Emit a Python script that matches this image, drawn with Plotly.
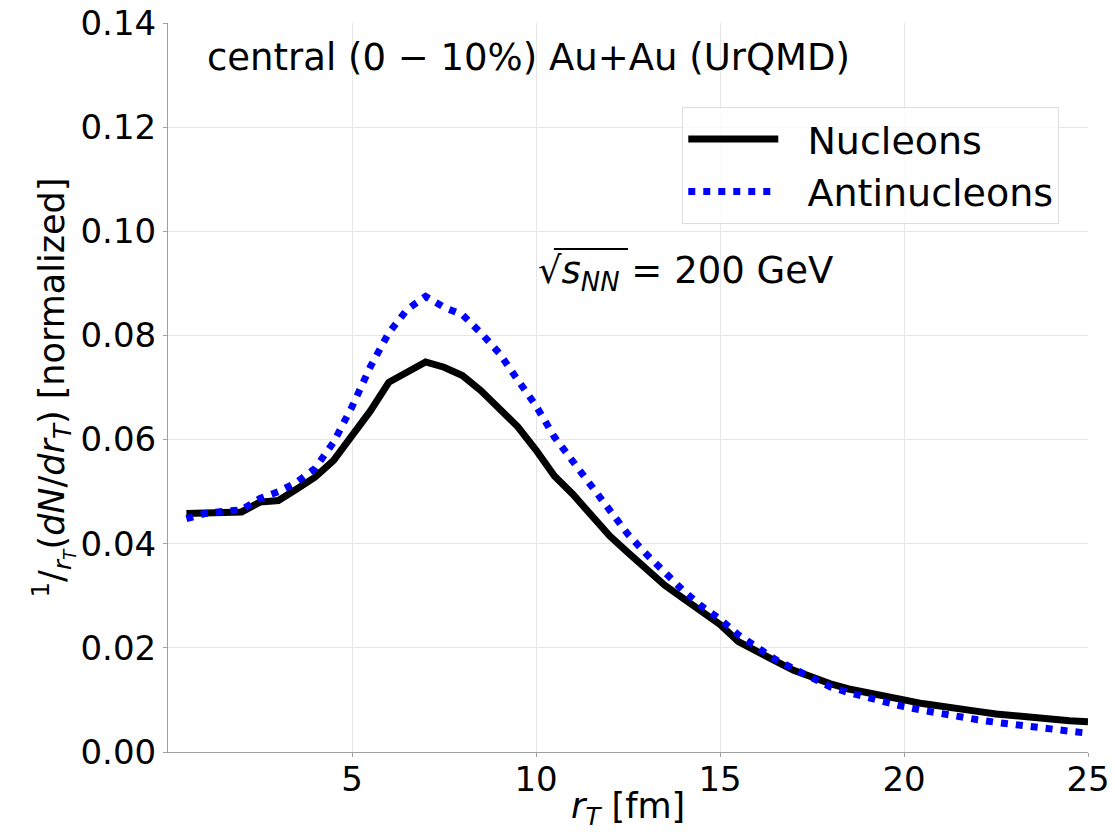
import plotly.graph_objects as go

r_T = [0.5, 1.0, 1.5, 2.0, 2.5, 3.0, 3.5, 4.0, 4.5, 5.0,
       5.5, 6.0, 6.5, 7.0, 7.5, 8.0, 8.5, 9.0, 9.5, 10.0,
       10.5, 11.0, 11.5, 12.0, 12.5, 13.0, 13.5, 14.0, 14.5, 15.0,
       15.5, 16.0, 16.5, 17.0, 17.5, 18.0, 18.5, 19.0, 19.5, 20.0,
       20.5, 21.0, 21.5, 22.0, 22.5, 23.0, 23.5, 24.0, 24.5, 25.0]

nucleons = [0.0458, 0.0460, 0.0461, 0.0461, 0.0480, 0.0483, 0.0505, 0.0528, 0.0560, 0.0605,
            0.0655, 0.0710, 0.0730, 0.0749, 0.0739, 0.0723, 0.0694, 0.0660, 0.0625, 0.0580,
            0.0530, 0.0495, 0.0455, 0.0415, 0.0383, 0.0350, 0.0320, 0.0295, 0.0270, 0.0245,
            0.0212, 0.0195, 0.0175, 0.0157, 0.0143, 0.0131, 0.0121, 0.0113, 0.0106, 0.0100,
            0.0093, 0.0087, 0.0083, 0.0078, 0.0073, 0.0069, 0.0065, 0.0062, 0.0060, 0.0058]

antinucleons = [0.0448, 0.0458, 0.0462, 0.0465, 0.0487, 0.0500, 0.0518, 0.0545, 0.0595, 0.0663,
                0.0740, 0.0805, 0.0850, 0.0875, 0.0854, 0.0840, 0.0805, 0.0766, 0.0715, 0.0665,
                0.0605, 0.0558, 0.0510, 0.0462, 0.0418, 0.0380, 0.0345, 0.0310, 0.0280, 0.0255,
                0.0225, 0.0200, 0.0178, 0.0160, 0.0142, 0.0125, 0.0114, 0.0104, 0.0095, 0.0087,
                0.0080, 0.0073, 0.0067, 0.0062, 0.0057, 0.0052, 0.0047, 0.0043, 0.0040, 0.0036]

x_ticks = [5, 10, 15, 20, 25]
y_ticks = [0.00, 0.02, 0.04, 0.06, 0.08, 0.10, 0.12, 0.14]

FONT = "DejaVu Sans"
PAD = "\u00a0\u00a0"

fig = go.Figure()
fig.add_trace(go.Scatter(x=r_T, y=nucleons, mode="lines", name=PAD + "Nucleons",
                         line=dict(color="black", width=7)))
fig.add_trace(go.Scatter(x=r_T, y=antinucleons, mode="lines", name=PAD + "Antinucleons",
                         line=dict(color="#0000ff", width=7, dash="7px,8px")))

fig.update_layout(
    width=1115, height=832,
    margin=dict(l=168, r=27, t=23, b=80, autoexpand=False),
    plot_bgcolor="white", paper_bgcolor="white",
    font=dict(family=FONT, color="black", size=34),
    showlegend=True,
    legend=dict(x=0.559, y=0.885, xanchor="left", yanchor="top",
                bgcolor="rgba(255,255,255,0.8)", bordercolor="#dddddd", borderwidth=1,
                font=dict(size=38, family=FONT), itemwidth=90,
                tracegroupgap=4),
)

fig.update_xaxes(
    range=[0, 25], tickvals=x_ticks, ticktext=[str(v) for v in x_ticks],
    showgrid=True, gridcolor="#e6e6e6", gridwidth=1,
    showline=True, linecolor="#a0a0a0", linewidth=1,
    ticks="outside", ticklen=4, tickcolor="#a0a0a0", automargin=False,
    ticklabelstandoff=-7,
    tickfont=dict(size=34, family=FONT), zeroline=False,
)
fig.update_yaxes(
    range=[0, 0.14], tickvals=y_ticks, tickformat=".2f",
    showgrid=True, gridcolor="#e6e6e6", gridwidth=1,
    showline=True, linecolor="#a0a0a0", linewidth=1,
    ticks="outside", ticklen=4, tickcolor="#a0a0a0", automargin=False,
    tickfont=dict(size=34, family=FONT), zeroline=False,
    title=dict(text="<sup>1</sup>/<sub><i>r<sub>T</sub></i></sub>(<i>dN</i>/<i>dr<sub>T</sub></i>) [normalized]",
               font=dict(size=35, family=FONT), standoff=4),
)

# x-axis title
fig.add_annotation(
    xref="paper", yref="paper", x=0.5, y=-0.077, xanchor="center", yanchor="middle",
    text="<i>r</i><sub><i>T</i></sub> [fm]", showarrow=False,
    font=dict(size=35, family=FONT, color="black"),
)
fig.add_annotation(
    xref="paper", yref="paper", x=0.04, y=0.952, xanchor="left", yanchor="middle",
    text="central (0 − 10%) Au+Au (UrQMD)", showarrow=False,
    font=dict(size=37, family=FONT, color="black"),
)
fig.add_annotation(
    xref="x", yref="y", x=10.0, y=0.092, xanchor="left", yanchor="middle",
    text="√<i>s</i><sub><i>NN</i></sub> = 200 GeV",
    showarrow=False, font=dict(size=37, family=FONT, color="black"),
)
# overline of the square root sign
fig.add_shape(type="line", xref="paper", yref="paper",
              x0=0.4195, x1=0.500, y0=0.690, y1=0.690,
              line=dict(color="black", width=2))

fig.write_html("out.html")
